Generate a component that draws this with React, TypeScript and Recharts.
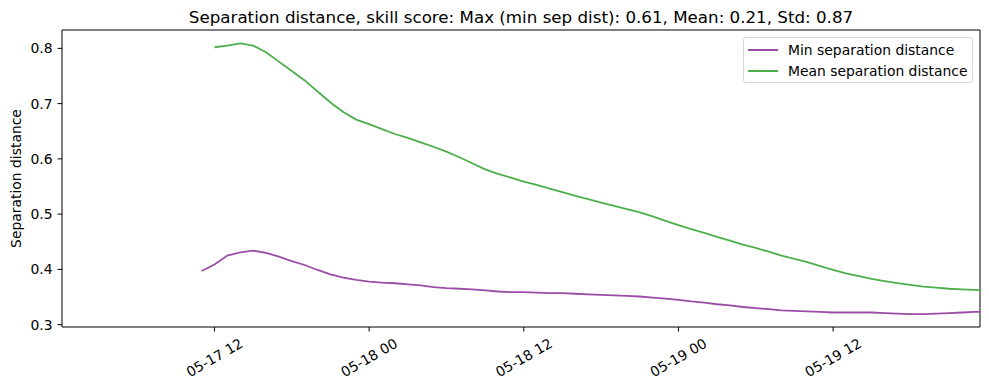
import React from 'react'
import { LineChart, Line, XAxis, YAxis, ReferenceLine } from 'recharts'

// hours since 05-17 00:00, one sample per hour
const hours = [
  11, 12, 13, 14, 15, 16, 17, 18, 19, 20,
  21, 22, 23, 24, 25, 26, 27, 28, 29, 30,
  31, 32, 33, 34, 35, 36, 37, 38, 39, 40,
  41, 42, 43, 44, 45, 46, 47, 48, 49, 50,
  51, 52, 53, 54, 55, 56, 57, 58, 59, 60,
  61, 62, 63, 64, 65, 66, 67, 68, 69, 70,
  71, 72
]

const minSep = [
  0.397, 0.409, 0.425, 0.431, 0.434, 0.430, 0.423, 0.415, 0.408, 0.399,
  0.391, 0.385, 0.381, 0.378, 0.376, 0.375, 0.373, 0.371, 0.368, 0.366,
  0.365, 0.364, 0.362, 0.360, 0.359, 0.359, 0.358, 0.357, 0.357, 0.356,
  0.355, 0.354, 0.353, 0.352, 0.351, 0.349, 0.347, 0.345, 0.342, 0.340,
  0.337, 0.335, 0.332, 0.330, 0.328, 0.326, 0.325, 0.324, 0.323, 0.322,
  0.322, 0.322, 0.322, 0.321, 0.320, 0.319, 0.319, 0.320, 0.321, 0.322,
  0.323, 0.323
]

const meanSep = [
  null, 0.802, 0.805, 0.809, 0.805, 0.793, 0.776, 0.759, 0.742, 0.722,
  0.702, 0.685, 0.671, 0.663, 0.654, 0.645, 0.638, 0.630, 0.622, 0.613,
  0.603, 0.592, 0.581, 0.573, 0.566, 0.559, 0.553, 0.546, 0.540, 0.533,
  0.527, 0.521, 0.515, 0.509, 0.503, 0.496, 0.488, 0.480, 0.473, 0.466,
  0.459, 0.452, 0.445, 0.439, 0.432, 0.425, 0.419, 0.413, 0.406, 0.399,
  0.393, 0.388, 0.383, 0.379, 0.375, 0.372, 0.369, 0.367, 0.365, 0.364,
  0.363, 0.362
]

const xTicks = [12, 24, 36, 48, 60]
const xTickLabels = ['05-17 12', '05-18 00', '05-18 12', '05-19 00', '05-19 12']
const yTicks = [0.3, 0.4, 0.5, 0.6, 0.7, 0.8]

const X_DOMAIN = [0.17, 71.4]
const Y_DOMAIN = [0.2958, 0.8332]

const MIN_COLOR = '#984ea3'
const MEAN_COLOR = '#4daf4a'
const FONT = '"DejaVu Sans", sans-serif'
const FS = 13.9

const data = hours.map((h, i) => ({ h, min: minSep[i], mean: meanSep[i] }))

const XTick = ({ x, y, payload }: any) => {
  const idx = xTicks.indexOf(payload.value)
  return (
    <text
      x={x}
      y={y + 24}
      transform={`rotate(-30, ${x}, ${y + 24})`}
      textAnchor="middle"
      dominantBaseline="central"
      fontSize={FS}
      fill="#000"
      fontFamily={FONT}
    >
      {xTickLabels[idx]}
    </text>
  )
}

const YLabel = ({ viewBox }: any) => {
  const x = viewBox.x + 8
  const y = viewBox.y + viewBox.height / 2
  return (
    <text
      x={x}
      y={y}
      transform={`rotate(-90, ${x}, ${y})`}
      textAnchor="middle"
      dominantBaseline="central"
      fontSize={FS}
      fill="#000"
      fontFamily={FONT}
    >
      Separation distance
    </text>
  )
}

export default function App() {
  return (
    <div style={{ position: 'relative', width: 981, height: 382, fontFamily: FONT }}>
      <div
        style={{
          position: 'absolute', top: 0, left: 54, width: 918, textAlign: 'center',
          fontSize: 16.7, lineHeight: '18px', color: '#000'
        }}
      >
        Separation distance, skill score: Max (min sep dist): 0.61, Mean: 0.21, Std: 0.87
      </div>
      <LineChart width={981} height={382} data={data} margin={{ top: 22, right: 9, left: 0, bottom: 0 }}>
        <XAxis
          dataKey="h"
          type="number"
          domain={X_DOMAIN}
          allowDataOverflow
          ticks={xTicks}
          tick={<XTick />}
          tickSize={4.5}
          height={63}
          axisLine={{ stroke: '#000', strokeWidth: 1 }}
          tickLine={{ stroke: '#000' }}
        />
        <YAxis
          type="number"
          domain={Y_DOMAIN}
          allowDataOverflow
          ticks={yTicks}
          tickFormatter={(v: number) => v.toFixed(1)}
          tick={{ fontSize: FS, fill: '#000', fontFamily: FONT }}
          tickSize={4.5}
          tickMargin={5}
          width={54}
          axisLine={{ stroke: '#000', strokeWidth: 1 }}
          tickLine={{ stroke: '#000' }}
          label={<YLabel />}
        />
        <ReferenceLine y={Y_DOMAIN[1]} stroke="#000" strokeWidth={1} />
        <ReferenceLine x={X_DOMAIN[1]} stroke="#000" strokeWidth={1} />
        <Line
          dataKey="min"
          stroke={MIN_COLOR}
          strokeWidth={1.8}
          dot={false}
          activeDot={false}
          isAnimationActive={false}
        />
        <Line
          dataKey="mean"
          stroke={MEAN_COLOR}
          strokeWidth={1.8}
          dot={false}
          activeDot={false}
          connectNulls={false}
          isAnimationActive={false}
        />
      </LineChart>
      <div
        style={{
          position: 'absolute', left: 735, top: 29, width: 228, height: 44,
          border: '1px solid #d6d6d6', borderRadius: 3, background: '#fff',
          fontSize: FS, color: '#000'
        }}
      >
        {[
          { name: 'Min separation distance', color: MIN_COLOR },
          { name: 'Mean separation distance', color: MEAN_COLOR }
        ].map((item, i) => (
          <div key={i} style={{ position: 'absolute', left: 4, top: 3 + i * 21, height: 18, display: 'flex', alignItems: 'center' }}>
            <span style={{ display: 'inline-block', width: 30, height: 2, background: item.color, marginRight: 10 }} />
            <span style={{ whiteSpace: 'nowrap' }}>{item.name}</span>
          </div>
        ))}
      </div>
    </div>
  )
}
